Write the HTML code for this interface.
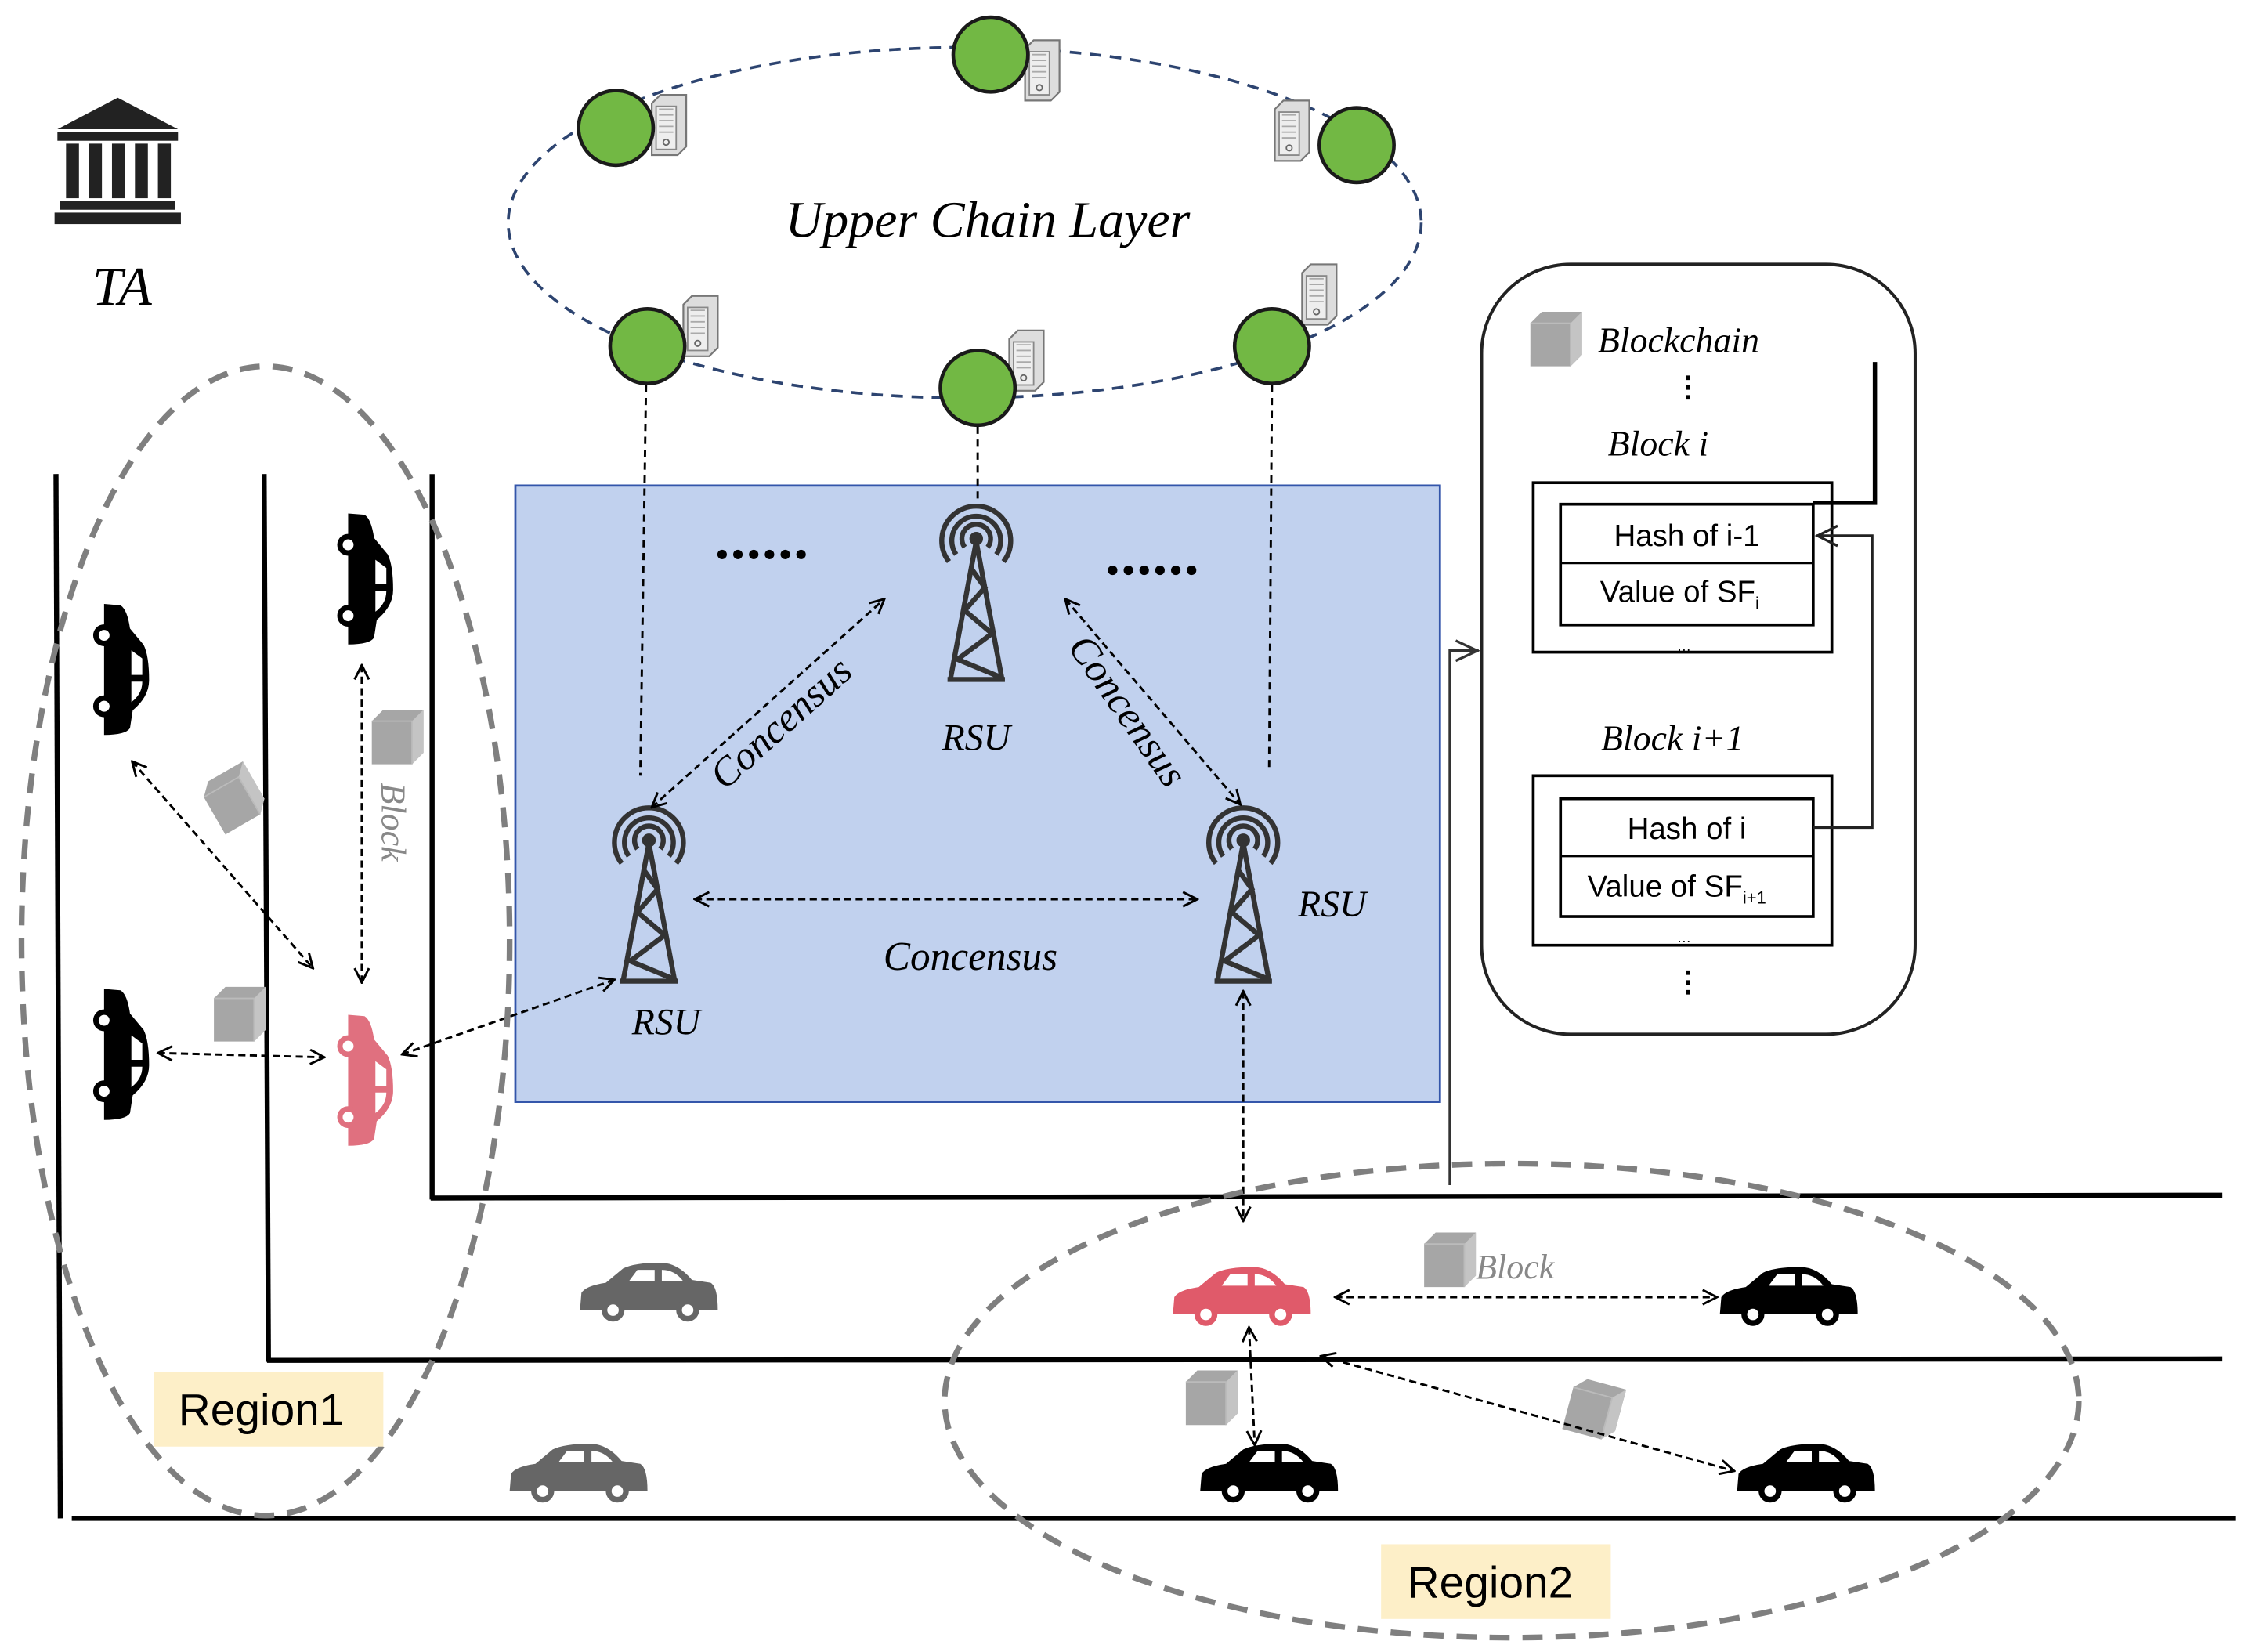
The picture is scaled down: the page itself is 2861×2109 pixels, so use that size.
<!DOCTYPE html>
<html><head><meta charset="utf-8">
<style>
html,body{margin:0;padding:0;background:#fff;}
svg{display:block;}
.it{font-family:"Liberation Serif",serif;font-style:italic;}
.sans{font-family:"Liberation Sans",sans-serif;}
</style></head>
<body>
<svg width="2861" height="2109" viewBox="0 0 1561 1150" preserveAspectRatio="none" xmlns="http://www.w3.org/2000/svg">
<defs>
<marker id="ah" viewBox="0 0 12 12" refX="11" refY="6" markerWidth="12" markerHeight="12" markerUnits="userSpaceOnUse" orient="auto-start-reverse">
<path d="M1,1 L11,6 L1,11" fill="none" stroke="#000" stroke-width="1.6"/>
</marker>
<g id="car">
<path d="M-48,10 L-47,-2 Q-44,-7 -30,-9 L-18,-19 Q-10,-23 8,-23 Q20,-23 30,-11 L43,-9 Q48,-6 48,10 Z"/>
<path d="M-14,-10 L-8,-18 L4,-18 L4,-10 Z M9,-10 L9,-18 Q18,-18 24,-10 Z" fill="#fff"/>
<circle cx="-25" cy="10" r="8"/><circle cx="-25" cy="10" r="4" fill="#fff"/>
<circle cx="27" cy="10" r="8"/><circle cx="27" cy="10" r="4" fill="#fff"/>
</g>
<g id="tower" fill="none" stroke="#333" stroke-width="3.5">
<circle cx="0" cy="0" r="3" fill="#333"/>
<path d="M-8,6 A10,10 0 1 1 8,6"/>
<path d="M-14,11 A17,17 0 1 1 14,11"/>
<path d="M-19,16 A24,24 0 1 1 19,16"/>
<path d="M0,2 L-18,98 M0,2 L18,98 M-20,98 L20,98 M-4,20 L6,34 L-8,50 L11,66 L-13,84 L16,96"/>
</g>
<g id="server">
<path d="M0,6 L6,0 L24,0 L24,36 L18,42 L0,42 Z" fill="#ddd" stroke="#777" stroke-width="1.2"/>
<rect x="3" y="8" width="14" height="30" fill="#eee" stroke="#888" stroke-width="1"/>
<path d="M5,10 h10 M5,14 h10 M5,18 h10 M5,22 h10 M5,26 h10" stroke="#aaa" stroke-width="1"/>
<circle cx="10" cy="33" r="2" fill="none" stroke="#666"/>
</g>
<g id="cube">
<path d="M0,8 L8,0 L36,0 L36,30 L28,38 L0,38 Z" fill="#a6a6a6"/>
<path d="M28,8 L36,0 L36,30 L28,38 Z" fill="#c4c4c4"/>
<path d="M0,8 L28,8 L28,38" fill="none" stroke="#bbb" stroke-width="1"/>
</g>
</defs>

<g fill="#222">
<path d="M82,68 L40,90 L124,90 Z"/>
<rect x="40" y="92" width="84" height="6"/>
<rect x="46" y="100" width="9" height="38"/><rect x="62" y="100" width="9" height="38"/>
<rect x="78" y="100" width="9" height="38"/><rect x="94" y="100" width="9" height="38"/><rect x="110" y="100" width="9" height="38"/>
<rect x="42" y="140" width="80" height="6"/><rect x="38" y="148" width="88" height="8"/>
</g>
<text x="85" y="212" class="it" font-size="38" text-anchor="middle">TA</text>

<ellipse cx="672" cy="155" rx="318" ry="122" fill="none" stroke="#2d4470" stroke-width="2" stroke-dasharray="8,6"/>
<text x="688" y="165" class="it" font-size="36" text-anchor="middle">Upper Chain Layer</text>
<use href="#server" x="454" y="66"/>
<use href="#server" x="714" y="28"/>
<use href="#server" x="888" y="70"/>
<use href="#server" x="476" y="206"/>
<use href="#server" x="703" y="230"/>
<use href="#server" x="907" y="184"/>
<g fill="#72b844" stroke="#1a1a1a" stroke-width="2.5">
<circle cx="429" cy="89" r="26"/><circle cx="690" cy="38" r="26"/><circle cx="945" cy="101" r="26"/>
<circle cx="451" cy="241" r="26"/><circle cx="681" cy="270" r="26"/><circle cx="886" cy="241" r="26"/>
</g>

<g stroke="#000" stroke-width="3.5">
<line x1="39" y1="330" x2="42" y2="1057"/>
<line x1="184" y1="330" x2="187" y2="948"/>
<line x1="301" y1="330" x2="301" y2="835"/>
<line x1="300" y1="834" x2="1548" y2="832"/>
<line x1="186" y1="947" x2="1548" y2="946"/>
<line x1="50" y1="1057" x2="1557" y2="1057"/>
</g>

<rect x="359" y="338" width="644" height="429" fill="#c1d1ee" stroke="#3355aa" stroke-width="1.5"/>
<g stroke="#000" stroke-width="1.6" stroke-dasharray="5,4" fill="none">
<line x1="450" y1="268" x2="446" y2="540"/>
<line x1="681" y1="297" x2="681" y2="352"/>
<line x1="886" y1="268" x2="884" y2="538"/>
</g>
<g fill="#000">
<circle cx="503" cy="386" r="3.3"/><circle cx="514" cy="386" r="3.3"/><circle cx="525" cy="386" r="3.3"/><circle cx="536" cy="386" r="3.3"/><circle cx="547" cy="386" r="3.3"/><circle cx="558" cy="386" r="3.3"/>
<circle cx="775" cy="397" r="3.3"/><circle cx="786" cy="397" r="3.3"/><circle cx="797" cy="397" r="3.3"/><circle cx="808" cy="397" r="3.3"/><circle cx="819" cy="397" r="3.3"/><circle cx="830" cy="397" r="3.3"/>
</g>
<use href="#tower" x="680" y="375"/>
<use href="#tower" x="452" y="585"/>
<use href="#tower" x="866" y="585"/>
<text x="680" y="522" class="it" font-size="26" text-anchor="middle">RSU</text>
<text x="464" y="720" class="it" font-size="26" text-anchor="middle">RSU</text>
<text x="928" y="638" class="it" font-size="26" text-anchor="middle">RSU</text>
<g stroke="#000" stroke-width="1.6" stroke-dasharray="5,3" fill="none" marker-start="url(#ah)" marker-end="url(#ah)">
<line x1="454" y1="562" x2="616" y2="417"/>
<line x1="742" y1="417" x2="864" y2="560"/>
<line x1="484" y1="626" x2="834" y2="626"/>
<line x1="866" y1="690" x2="866" y2="850"/>
<line x1="280" y1="734" x2="428" y2="682"/>
</g>
<text class="it" font-size="28" transform="translate(550,510) rotate(-42)" text-anchor="middle">Concensus</text>
<text class="it" font-size="28" transform="translate(778,500) rotate(55)" text-anchor="middle">Concensus</text>
<text x="676" y="675" class="it" font-size="28" text-anchor="middle">Concensus</text>

<ellipse cx="185" cy="655" rx="170" ry="400" fill="none" stroke="#7f7f7f" stroke-width="4" stroke-dasharray="14,9"/>
<use href="#car" transform="translate(82,466) rotate(90) scale(0.95)"/>
<use href="#car" transform="translate(252,403) rotate(90) scale(0.95)"/>
<use href="#car" transform="translate(82,734) rotate(90) scale(0.95)"/>
<use href="#car" fill="#e0707f" transform="translate(252,752) rotate(90) scale(0.95)"/>
<use href="#cube" transform="translate(138,548) rotate(-30)"/>
<use href="#cube" x="259" y="494"/>
<use href="#cube" x="149" y="687"/>
<text class="it" font-size="24" fill="#888" transform="translate(266,545) rotate(90)">Block</text>
<g stroke="#000" stroke-width="1.6" stroke-dasharray="5,3" fill="none" marker-start="url(#ah)" marker-end="url(#ah)">
<line x1="92" y1="530" x2="218" y2="674"/>
<line x1="252" y1="463" x2="252" y2="684"/>
<line x1="110" y1="733" x2="226" y2="736"/>
</g>
<rect x="107" y="955" width="160" height="52" fill="#fdefc8"/>
<text x="182" y="992" class="sans" font-size="31" text-anchor="middle">Region1</text>

<use href="#car" fill="#666" transform="translate(452,902) scale(1)"/>
<use href="#car" fill="#666" transform="translate(403,1028) scale(1)"/>

<ellipse cx="1053" cy="975" rx="395" ry="165" fill="none" stroke="#7f7f7f" stroke-width="4" stroke-dasharray="14,9"/>
<use href="#car" fill="#e05a6a" transform="translate(865,905)"/>
<use href="#car" transform="translate(1246,905)"/>
<use href="#car" transform="translate(884,1028)"/>
<use href="#car" transform="translate(1258,1028)"/>
<use href="#cube" x="992" y="858"/>
<use href="#cube" x="826" y="954"/>
<use href="#cube" transform="translate(1098,958) rotate(15)"/>
<text x="1028" y="890" class="it" font-size="24" fill="#888">Block</text>
<g stroke="#000" stroke-width="1.6" stroke-dasharray="5,3" fill="none" marker-start="url(#ah)" marker-end="url(#ah)">
<line x1="930" y1="903" x2="1196" y2="903"/>
<line x1="870" y1="924" x2="874" y2="1006"/>
<line x1="920" y1="944" x2="1208" y2="1024"/>
</g>
<rect x="962" y="1075" width="160" height="52" fill="#fdefc8"/>
<text x="1038" y="1112" class="sans" font-size="31" text-anchor="middle">Region2</text>

<path d="M1010,825 L1010,453 L1030,453" fill="none" stroke="#333" stroke-width="2"/>
<path d="M1014,446 L1029,453 L1014,460" fill="none" stroke="#333" stroke-width="1.8"/>

<rect x="1032" y="184" width="302" height="536" rx="62" fill="#fff" stroke="#222" stroke-width="2.2"/>
<use href="#cube" x="1066" y="217"/>
<text x="1113" y="245" class="it" font-size="25">Blockchain</text>
<text x="1176" y="276" font-size="20" text-anchor="middle" class="sans" font-weight="bold">⋮</text>
<text x="1155" y="317" class="it" font-size="25" text-anchor="middle">Block  i</text>
<rect x="1068" y="336" width="208" height="118" fill="none" stroke="#000" stroke-width="2"/>
<rect x="1087" y="351" width="176" height="84" fill="#fff" stroke="#000" stroke-width="2"/>
<line x1="1087" y1="392" x2="1263" y2="392" stroke="#000" stroke-width="1.5"/>
<text x="1175" y="380" class="sans" font-size="21" text-anchor="middle">Hash of i-1</text>
<text x="1170" y="419" class="sans" font-size="21" text-anchor="middle">Value of SF<tspan font-size="12" dy="5">i</tspan></text>
<text x="1173" y="453" class="sans" font-size="10" text-anchor="middle">…</text>
<text x="1165" y="522" class="it" font-size="25" text-anchor="middle">Block  i+1</text>
<rect x="1068" y="540" width="208" height="118" fill="none" stroke="#000" stroke-width="2"/>
<rect x="1087" y="556" width="176" height="82" fill="#fff" stroke="#000" stroke-width="2"/>
<line x1="1087" y1="596" x2="1263" y2="596" stroke="#000" stroke-width="1.5"/>
<text x="1175" y="584" class="sans" font-size="21" text-anchor="middle">Hash of i</text>
<text x="1168" y="624" class="sans" font-size="21" text-anchor="middle">Value of SF<tspan font-size="12" dy="5">i+1</tspan></text>
<text x="1173" y="656" class="sans" font-size="10" text-anchor="middle">…</text>
<text x="1176" y="690" font-size="20" text-anchor="middle" class="sans" font-weight="bold">⋮</text>
<path d="M1263,350 L1306,350 L1306,252" fill="none" stroke="#000" stroke-width="3"/>
<path d="M1263,576 L1304,576 L1304,373 L1265,373" fill="none" stroke="#222" stroke-width="2"/>
<path d="M1280,366 L1266,373 L1280,380" fill="none" stroke="#222" stroke-width="1.8"/>
</svg>
</body></html>
